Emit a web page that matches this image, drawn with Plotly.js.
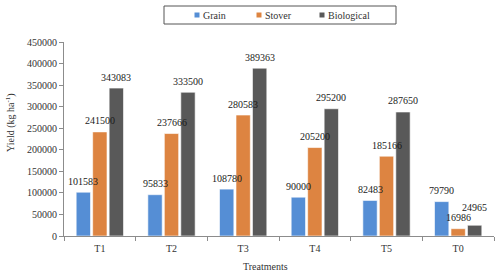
<!DOCTYPE html>
<html>
<head>
<meta charset="utf-8">
<script src="https://cdn.plot.ly/plotly-3.0.1.min.js"></script>
<style>html,body{margin:0;padding:0;background:#fff}#chart{width:500px;height:274px}</style>
</head>
<body>
<div id="chart"></div>
<script>
var categories = ["T1", "T2", "T3", "T4", "T5", "T0"];
var grain = [101583, 95833, 108780, 90000, 82483, 79790];
var stover = [241500, 237666, 280583, 205200, 185166, 16986];
var biological = [343083, 333500, 389363, 295200, 287650, 24965];
var seriesNames = ["Grain", "Stover", "Biological"];
var seriesColors = ["#558ED5", "#DD8441", "#595959"];
var seriesValues = [grain, stover, biological];

var FONT = 'Liberation Serif, Times New Roman, serif';
var W = 500, H = 274;
var M = {l: 64, r: 6, t: 42, b: 38};
var PW = W - M.l - M.r, PH = H - M.t - M.b;
var bargap = 0.31, bargroupgap = 0.13;

function px2x(px) { return (px - M.l) / PW; }
function px2y(py) { return (H - M.b - py) / PH; }

var traces = seriesValues.map(function (vals, i) {
  return {
    type: 'bar', name: seriesNames[i], x: categories, y: vals,
    marker: {color: seriesColors[i], line: {color: 'rgba(255,255,255,0.6)', width: 1}},
    showlegend: false, hoverinfo: 'x+y+name'
  };
});

// label nudges (style only): extra vertical pixels for crowded labels
var labelNudge = {"Biological|T0": 7};

var annotations = [];
var slot = (1 - bargap) / 3;
seriesValues.forEach(function (vals, i) {
  vals.forEach(function (v, j) {
    var key = seriesNames[i] + "|" + categories[j];
    annotations.push({
      xref: 'x', yref: 'y', x: j + (i - 1) * slot, y: v,
      text: String(v), showarrow: false, xanchor: 'center', yanchor: 'bottom',
      yshift: 3.5 + (labelNudge[key] || 0),
      font: {family: FONT, size: 10, color: '#1a1a1a'}
    });
  });
});

// axis titles
annotations.push({
  xref: 'paper', yref: 'paper', x: px2x(10), y: px2y(122), text: 'Yield (kg ha<sup>-1</sup>)',
  textangle: -90, showarrow: false, xanchor: 'center', yanchor: 'middle',
  font: {family: FONT, size: 10, color: '#333'}
});
annotations.push({
  xref: 'paper', yref: 'paper', x: px2x(265), y: px2y(266), text: 'Treatments',
  showarrow: false, xanchor: 'center', yanchor: 'middle',
  font: {family: FONT, size: 10, color: '#333'}
});

// custom legend
var shapes = [{
  type: 'rect', xref: 'paper', yref: 'paper',
  x0: px2x(164), x1: px2x(396), y0: px2y(24), y1: px2y(6),
  line: {color: '#555', width: 1}, fillcolor: '#fff'
}];
var legendX = [197, 259, 322];
seriesNames.forEach(function (n, i) {
  shapes.push({
    type: 'rect', xref: 'paper', yref: 'paper',
    x0: px2x(legendX[i] - 2.5), x1: px2x(legendX[i] + 2.5),
    y0: px2y(17.5), y1: px2y(12.5),
    line: {width: 0}, fillcolor: seriesColors[i]
  });
  annotations.push({
    xref: 'paper', yref: 'paper', x: px2x(legendX[i] + 4), y: px2y(15),
    text: n, showarrow: false, xanchor: 'left', yanchor: 'middle',
    font: {family: FONT, size: 10, color: '#333'}
  });
});

var layout = {
  width: W, height: H, margin: M,
  paper_bgcolor: '#fff', plot_bgcolor: '#fff',
  barmode: 'group', bargap: bargap, bargroupgap: bargroupgap,
  font: {family: FONT, size: 10, color: '#333'},
  xaxis: {
    type: 'category', showline: true, linecolor: '#8c8c8c', linewidth: 1,
    ticks: 'outside', tickson: 'boundaries', ticklen: 4, tickcolor: '#8c8c8c',
    showgrid: false, zeroline: false, ticklabelstandoff: 3,
    tickfont: {family: FONT, size: 10, color: '#333'}
  },
  yaxis: {
    range: [0, 450000], dtick: 50000, tick0: 0, showline: true, linecolor: '#8c8c8c', linewidth: 1,
    ticks: 'outside', ticklen: 4, tickcolor: '#8c8c8c', showgrid: false, zeroline: false,
    tickformat: 'd', tickfont: {family: FONT, size: 10, color: '#333'}
  },
  annotations: annotations,
  shapes: shapes,
  showlegend: false
};

Plotly.newPlot('chart', traces, layout, {displayModeBar: false, staticPlot: true});
</script>
</body>
</html>
